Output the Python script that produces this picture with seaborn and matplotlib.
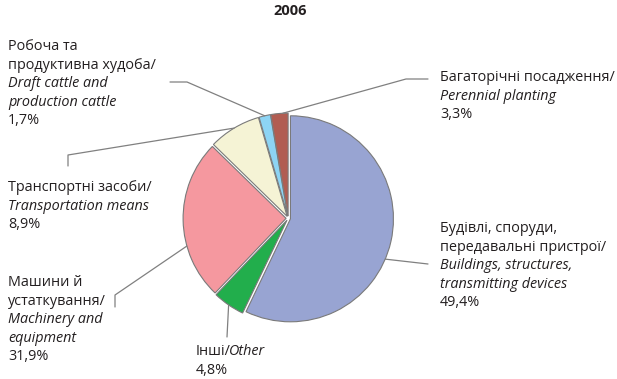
import numpy as np
import matplotlib.pyplot as plt
import seaborn as sns

# slice shares as drawn (the printed percentages are in pct_labels)
categories_uk = ["Будівлі, споруди,\nпередавальні пристрої/", "Інші/", "Машини й\nустаткування/",
                 "Транспортні засоби/", "Робоча та\nпродуктивна худоба/", "Багаторічні посадження/"]
categories_en = ["Buildings, structures,\ntransmitting devices", "Other", "Machinery and\nequipment",
                 "Transportation means", "Draft cattle and\nproduction cattle", "Perennial planting"]
pct_labels = ["49,4%", "4,8%", "31,9%", "8,9%", "1,7%", "3,3%"]
shares = [57.1, 5.0, 25.2, 8.2, 1.8, 2.7]
colors = ["#98A4D2", "#22AE4C", "#F5989F", "#F5F3D5", "#8DD4F4", "#B15D52"]

W, H = 617, 379


def py(y):
    return H - y


sns.set_style("white")
plt.rcParams['font.family'] = ['Open Sans', 'DejaVu Sans']

fig = plt.figure(figsize=(W / 100, H / 100), dpi=100)
ax = fig.add_axes([0, 0, 1, 1])

# axes are in pixel units, so explode is a pixel offset here
cx, cy, r = 288.3, py(218.3), 103
wedges, _ = ax.pie(shares, colors=sns.color_palette(colors), startangle=90, counterclock=False,
                   center=(cx, cy), radius=r, explode=[2.2] * len(shares),
                   wedgeprops=dict(edgecolor='#7a7a7a', linewidth=0.8), frame=True)
ax.set_xlim(0, W)
ax.set_ylim(0, H)
ax.set_aspect('equal')
ax.axis('off')


def edge_point(w, frac):
    a = np.deg2rad(w.theta1 + (w.theta2 - w.theta1) * frac)
    return w.center[0] + w.r * np.cos(a), w.center[1] + w.r * np.sin(a)


# label position (left, top in px), anchor fraction along wedge, leader path after anchor
layout = [
    ((440, 221), 0.45, [(428, 264)]),
    ((196, 344), 0.5, [(227, 337)]),
    ((8, 275), 0.66, [(115, 295), (115, 307)]),
    ((8, 180), 0.5, [(68, 155), (68, 166)]),
    ((8, 39), 0.5, [(187, 82), (170, 82)]),
    ((440, 70), 0.3, [(406, 79), (428, 79)]),
]

fs = 10.4
tc = '#231f20'
line_kw = dict(color='#808080', lw=0.9)
for w, uk, en, pct, (pos, frac, path) in zip(wedges, categories_uk, categories_en, pct_labels, layout):
    x0, y0 = edge_point(w, frac)
    xs = [x0] + [p[0] for p in path]
    ys = [y0] + [py(p[1]) for p in path]
    ax.plot(xs, ys, **line_kw)

    lx, ly = pos
    step = 18.6
    en_lines = en.split("\n")
    if uk == "Інші/":
        # single row: ukrainian + italic english
        t1 = ax.text(lx, py(ly), uk, fontsize=fs, va='top', ha='left', color=tc)
        fig.canvas.draw()
        bb = t1.get_window_extent()
        ax.text(lx + bb.width - 1.5, py(ly), en_lines[0], fontsize=fs, va='top', ha='left',
                style='italic', color=tc)
        ax.text(lx, py(ly + step), pct, fontsize=fs, va='top', ha='left', color=tc)
        continue
    lines = [(t, 'normal') for t in uk.split("\n")]
    lines += [(t, 'italic') for t in en_lines]
    lines.append((pct, 'normal'))
    for i, (t, st) in enumerate(lines):
        ax.text(lx, py(ly + i * step), t, fontsize=fs, va='top', ha='left', style=st, color=tc)

ax.text(290, py(11), "2006", fontsize=10.5, fontweight='bold', ha='center', va='center', color=tc)

fig.savefig('out.png', dpi=100)
